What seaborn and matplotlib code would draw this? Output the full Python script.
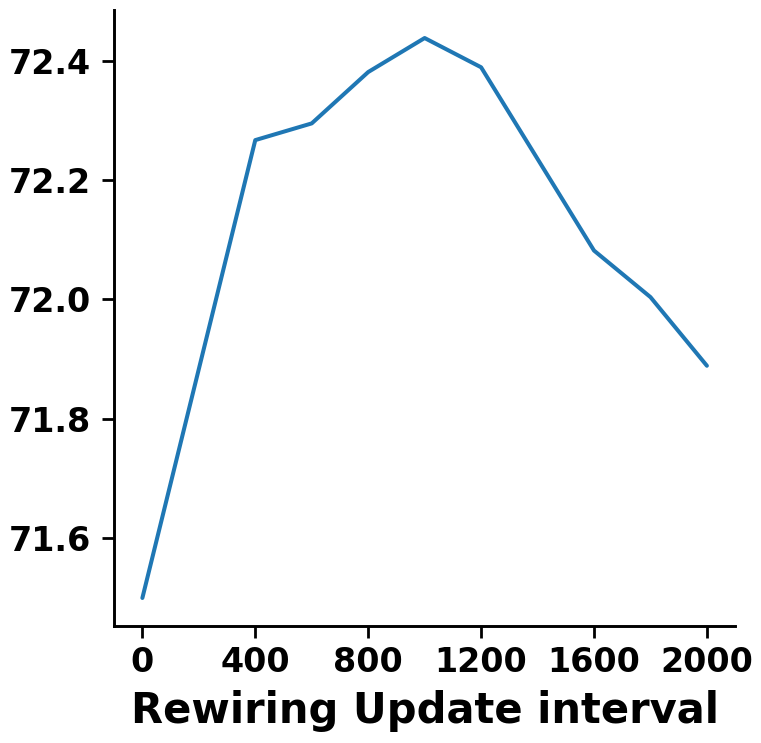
import numpy as np
import pandas as pd
import seaborn as sns
import matplotlib.pyplot as plt

# valeurs
intervals = [0, 400, 600, 800, 1000, 1200, 1600, 1800, 2000]
accuracy = [71.50, 72.267, 72.295, 72.381, 72.438, 72.389, 72.082, 72.004, 71.889]
x_ticks = [0, 400, 800, 1200, 1600, 2000]
y_ticks = [71.6, 71.8, 72.0, 72.2, 72.4]

df = pd.DataFrame({'interval': intervals, 'acc': accuracy})

sns.set_theme(style='ticks', context='talk')
plt.rcParams['font.family'] = ['DejaVu Sans']
plt.rcParams['font.weight'] = 'bold'
plt.rcParams['text.color'] = 'black'
plt.rcParams['axes.labelcolor'] = 'black'
plt.rcParams['xtick.color'] = 'black'
plt.rcParams['ytick.color'] = 'black'
plt.rcParams['axes.edgecolor'] = 'black'

fig = plt.figure(figsize=(7.61, 7.43), dpi=100)
ax = fig.add_axes([0.15, 0.1575, 0.816, 0.829])

sns.lineplot(data=df, x='interval', y='acc', ax=ax, color='#1f77b4', linewidth=2.9)

ax.set_xticks(x_ticks)
ax.set_yticks(y_ticks)
ax.set_yticklabels([f'{v:.1f}' for v in y_ticks])
ax.tick_params(axis='both', labelsize=24, width=2, length=8.5, colors='black')
ax.tick_params(axis='x', pad=6)
ax.tick_params(axis='y', pad=8)
for lab in ax.get_xticklabels() + ax.get_yticklabels():
    lab.set_fontweight('bold')

ax.set_xlabel('Rewiring Update interval', fontsize=30, fontweight='bold', labelpad=8)
ax.set_ylabel('')
for s in ['left', 'bottom']:
    ax.spines[s].set_linewidth(2.1)
sns.despine(ax=ax)

fig.savefig('out.png', dpi=100)
